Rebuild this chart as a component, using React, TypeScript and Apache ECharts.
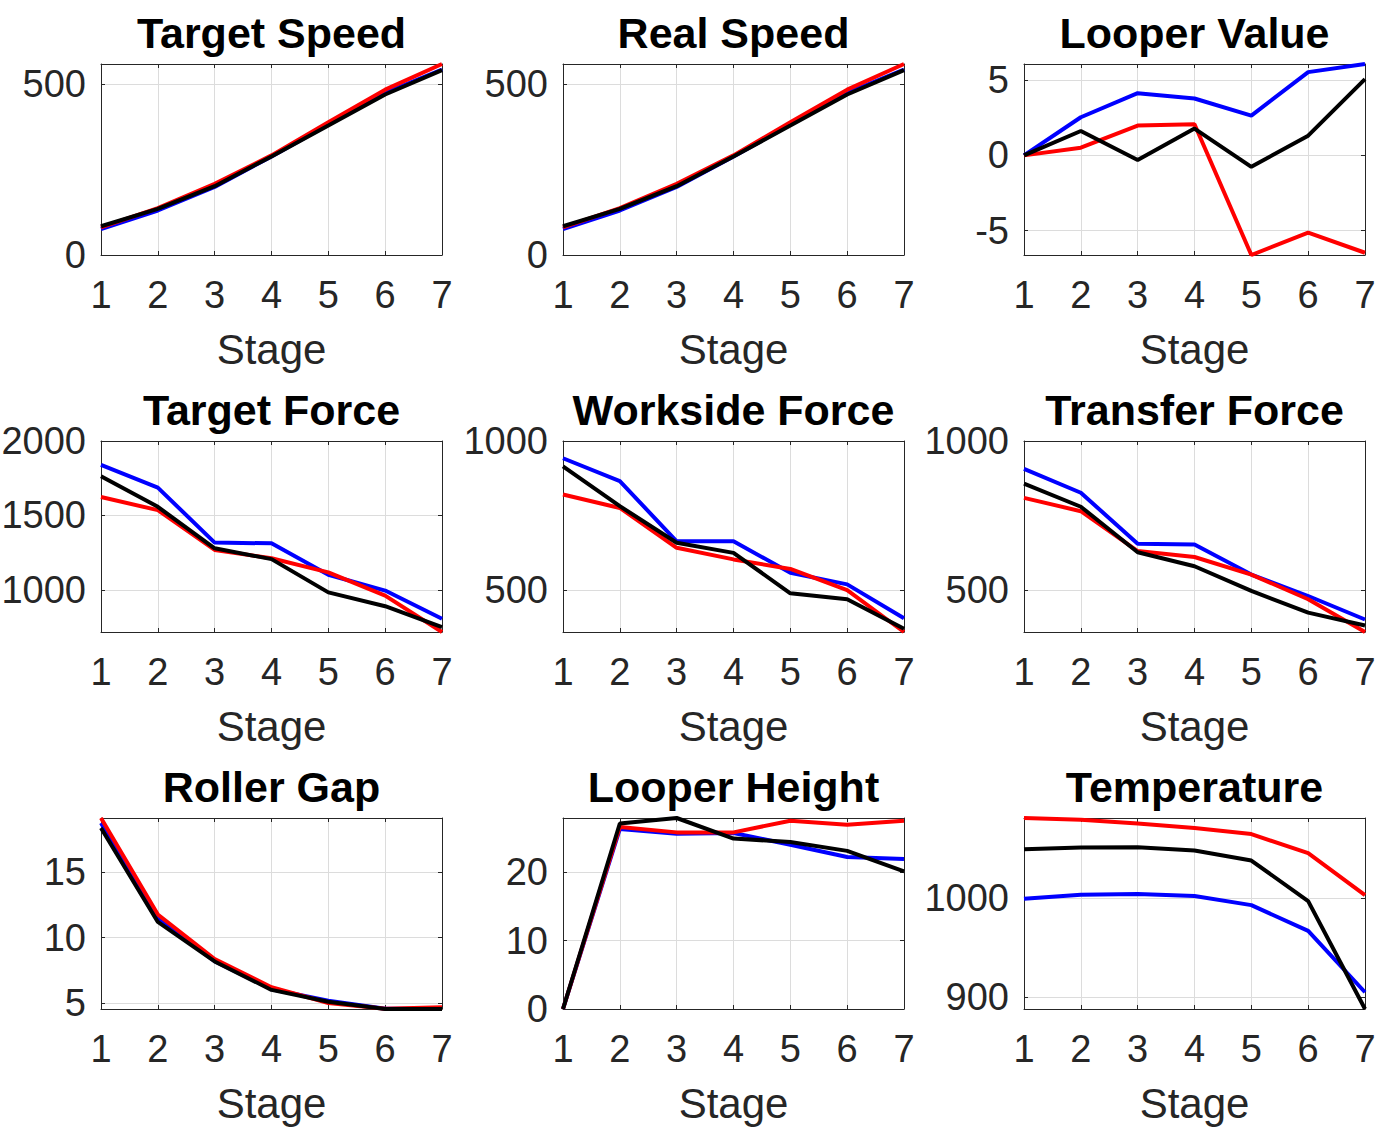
import React, { useEffect, useRef } from "react";
import * as echarts from "echarts";

const stages = [1, 2, 3, 4, 5, 6, 7];

const titles = [
  "Target Speed", "Real Speed", "Looper Value",
  "Target Force", "Workside Force", "Transfer Force",
  "Roller Gap", "Looper Height", "Temperature",
];

const targetSpeedBlue = [76, 130, 199, 288, 381, 474, 542];
const targetSpeedRed = [81, 137, 208, 291, 388, 483, 558];
const targetSpeedBlack = [84, 135, 201, 288, 378, 469, 540];

const realSpeedBlue = [76, 130, 199, 288, 381, 474, 542];
const realSpeedRed = [81, 137, 208, 291, 388, 483, 558];
const realSpeedBlack = [84, 135, 201, 288, 378, 469, 540];

const looperValueBlue = [0, 2.53, 4.13, 3.78, 2.64, 5.53, 6.07];
const looperValueRed = [0, 0.51, 1.98, 2.07, -6.62, -5.13, -6.47];
const looperValueBlack = [0, 1.62, -0.31, 1.78, -0.76, 1.31, 5.07];

const targetForceBlue = [1840, 1687, 1318, 1313, 1102, 996, 807];
const targetForceRed = [1624, 1536, 1269, 1213, 1118, 962, 718];
const targetForceBlack = [1764, 1558, 1280, 1207, 984, 891, 751];

const worksideForceBlue = [942, 865, 663, 663, 557, 518, 404];
const worksideForceRed = [820, 775, 641, 602, 570, 499, 358];
const worksideForceBlack = [915, 781, 658, 624, 488, 468, 369];

const transferForceBlue = [906, 826, 655, 652, 551, 479, 400];
const transferForceRed = [809, 764, 630, 610, 551, 468, 358];
const transferForceBlack = [857, 779, 626, 579, 496, 423, 380];

const rollerGapBlue = [18.77, 11.46, 8.2, 6.05, 5.18, 4.56, 4.56];
const rollerGapRed = [19.15, 11.77, 8.36, 6.21, 5.0, 4.56, 4.67];
const rollerGapBlack = [18.38, 11.2, 8.18, 6.0, 5.1, 4.54, 4.54];

const looperHeightBlue = [0, 26.3, 25.6, 25.7, 24.0, 22.2, 21.9];
const looperHeightRed = [0, 26.6, 25.8, 25.8, 27.5, 26.9, 27.5];
const looperHeightBlack = [0, 27.1, 27.9, 24.9, 24.4, 23.1, 20.1];

const temperatureBlue = [999.7, 1003.7, 1004.4, 1002.4, 993.2, 967, 904.8];
const temperatureRed = [1081.6, 1079.9, 1075.9, 1071.4, 1065.3, 1045.9, 1003.4];
const temperatureBlack = [1050, 1051.7, 1052, 1048.6, 1038.4, 997.3, 887.8];

const panelBlue = [targetSpeedBlue, realSpeedBlue, looperValueBlue, targetForceBlue, worksideForceBlue, transferForceBlue, rollerGapBlue, looperHeightBlue, temperatureBlue];
const panelRed = [targetSpeedRed, realSpeedRed, looperValueRed, targetForceRed, worksideForceRed, transferForceRed, rollerGapRed, looperHeightRed, temperatureRed];
const panelBlack = [targetSpeedBlack, realSpeedBlack, looperValueBlack, targetForceBlack, worksideForceBlack, transferForceBlack, rollerGapBlack, looperHeightBlack, temperatureBlack];

const yMins = [0, 0, -6.62, 718, 358, 358, 4.54, 0, 887.8];
const yMaxs = [558, 558, 6.07, 2000, 1000, 1000, 19.15, 27.9, 1081.6];
const yTicks = [
  [0, 500], [0, 500], [-5, 0, 5],
  [1000, 1500, 2000], [500, 1000], [500, 1000],
  [5, 10, 15], [0, 10, 20], [900, 1000],
];

const colLefts = [101, 563, 1024];
const rowTops = [64, 441, 818];
const plotW = 341;
const plotH = 191;

const FONT = "'Liberation Sans', Arial, Helvetica, sans-serif";
const AXIS_COLOR = "#262626";
const GRID_COLOR = "#dcdcdc";

function buildOption() {
  const grid: any[] = [];
  const xAxis: any[] = [];
  const yAxis: any[] = [];
  const series: any[] = [];
  const title: any[] = [];

  for (let i = 0; i < 9; i++) {
    const c = i % 3;
    const r = Math.floor(i / 3);
    const left = colLefts[c];
    const top = rowTops[r];
    grid.push({ left, top, width: plotW, height: plotH, containLabel: false, outerBoundsMode: "none" });
    title.push({
      text: titles[i],
      left: left + plotW / 2,
      top: top - 53,
      textAlign: "center",
      padding: 0,
      textStyle: { fontSize: 43, fontWeight: "bold", color: "#000", fontFamily: FONT },
    });
    const axisLine = { show: true, onZero: false, lineStyle: { color: AXIS_COLOR, width: 1 } };
    const axisTick = { show: true, inside: true, length: 4, lineStyle: { color: AXIS_COLOR, width: 1 } };
    xAxis.push({
      gridIndex: i, type: "value", position: "bottom", min: 1, max: 7, interval: 1,
      axisLine, axisTick,
      axisLabel: { show: true, margin: 21, fontSize: 38, color: AXIS_COLOR, fontFamily: FONT, formatter: (v: number) => String(v) },
      splitLine: { show: true, lineStyle: { color: GRID_COLOR, width: 1 } },
      name: "Stage", nameLocation: "middle", nameGap: 73,
      nameTextStyle: { fontSize: 42, color: AXIS_COLOR, fontFamily: FONT },
    });
    xAxis.push({
      gridIndex: i, type: "value", position: "top", min: 1, max: 7, interval: 1,
      axisLine, axisTick, axisLabel: { show: false }, splitLine: { show: false },
    });
    const ticks = yTicks[i];
    yAxis.push({
      gridIndex: i, type: "value", position: "left", min: yMins[i], max: yMaxs[i],
      axisLine,
      axisTick: { ...axisTick, customValues: ticks },
      axisLabel: {
        show: true, margin: 15, fontSize: 38, color: AXIS_COLOR, fontFamily: FONT,
        customValues: ticks, padding: [6, 0, 0, 0],
        formatter: (v: number) => String(v),
      },
      splitLine: { show: true, lineStyle: { color: GRID_COLOR, width: 1 } },
    });
    yAxis.push({
      gridIndex: i, type: "value", position: "right", min: yMins[i], max: yMaxs[i],
      axisLine,
      axisTick: { ...axisTick, customValues: ticks },
      axisLabel: { show: false, customValues: ticks },
      splitLine: { show: false },
    });
    const mk = (data: number[], color: string) => ({
      type: "line",
      xAxisIndex: 2 * i,
      yAxisIndex: 2 * i,
      data: stages.map((s, k) => [s, data[k]]),
      showSymbol: false,
      symbol: "none",
      clip: false,
      lineStyle: { color, width: 4 },
      itemStyle: { color },
      z: 3,
    });
    series.push(mk(panelBlue[i], "#0000ff"));
    series.push(mk(panelRed[i], "#ff0000"));
    series.push(mk(panelBlack[i], "#000000"));
  }

  return {
    animation: false,
    backgroundColor: "#ffffff",
    title,
    grid,
    xAxis,
    yAxis,
    series,
  };
}

export default function App() {
  const ref = useRef<HTMLDivElement>(null);
  useEffect(() => {
    if (!ref.current) return;
    const chart = echarts.init(ref.current, undefined, { renderer: "svg" });
    chart.setOption(buildOption() as any);
    return () => chart.dispose();
  }, []);
  return (
    <div
      ref={ref}
      style={{ position: "absolute", left: 0, top: 0, width: 1385, height: 1137, background: "#fff" }}
    />
  );
}
